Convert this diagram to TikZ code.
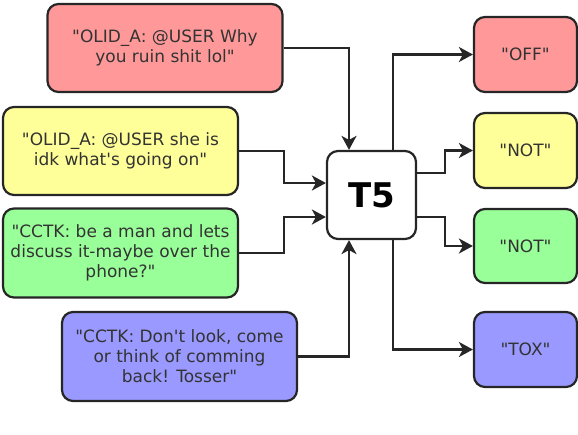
\documentclass[tikz,border=0pt]{standalone}
\usepackage{fontspec}
\setmainfont{DejaVu Sans}[Ligatures=TeXOff]
\usetikzlibrary{arrows.meta}
\definecolor{cred}{HTML}{FF9999}
\definecolor{cyel}{HTML}{FFFF99}
\definecolor{cgrn}{HTML}{99FF99}
\definecolor{cblu}{HTML}{9999FF}
\definecolor{cline}{HTML}{262626}
\tikzset{
  box/.style={draw=cline, line width=2.2pt, rounded corners=11pt, align=center,
    font=\fontsize{17}{20}\selectfont, text=black!80, inner sep=2pt},
  inbox/.style={box, minimum width=235pt, minimum height=88pt},
  outbox/.style={box, minimum width=103pt, minimum height=75pt},
  link/.style={draw=cline, line width=2.2pt, -{Stealth[length=14pt,width=15pt,inset=4pt]}}
}
\begin{document}
\begin{tikzpicture}[x=1pt,y=-1pt]
\useasboundingbox (0,0) rectangle (578,434);
\node[inbox, fill=cred] (red) at (165,48) {"OLID\_A: @USER Why\\you ruin shit lol"};
\node[inbox, fill=cyel] (yel) at (120.5,151) {"OLID\_A: @USER she is\\idk what's going on"};
\node[inbox, fill=cgrn, minimum height=89pt] (grn) at (120.5,253) {"CCTK: be a man and lets\\discuss it-maybe over the\\phone?"};
\node[inbox, fill=cblu, minimum height=89pt] (blu) at (179.5,356.5) {"CCTK: Don't look, come\\or think of comming\\back! Tosser"};
\node[box, fill=white, minimum width=89pt, minimum height=88pt, font=\bfseries\fontsize{34}{40}\selectfont, text=black] (t5) at (371.5,195) {T5};
\node[outbox, fill=cred] (off) at (525.5,54.5) {"OFF"};
\node[outbox, fill=cyel] (not1) at (525.5,150.5) {"NOT"};
\node[outbox, fill=cgrn, minimum height=74pt] (not2) at (525.5,246) {"NOT"};
\node[outbox, fill=cblu] (tox) at (525.5,349.5) {"TOX"};
\draw[link] (red.east) -| ([xshift=-22.5pt]t5.north);
\draw[link] (yel.east) -- ++(45,0) |- ([yshift=12pt]t5.west);
\draw[link] (grn.east) -- ++(45,0) |- ([yshift=-22pt]t5.west);
\draw[link] (blu.east) -| ([xshift=-22.5pt]t5.south);
\draw[link] ([xshift=21.5pt]t5.north) |- (off.west);
\draw[link] ([yshift=22pt]t5.east) -- ++(28,0) |- (not1.west);
\draw[link] ([yshift=-22pt]t5.east) -- ++(28,0) |- (not2.west);
\draw[link] ([xshift=21.5pt]t5.south) |- (tox.west);
\end{tikzpicture}
\end{document}
